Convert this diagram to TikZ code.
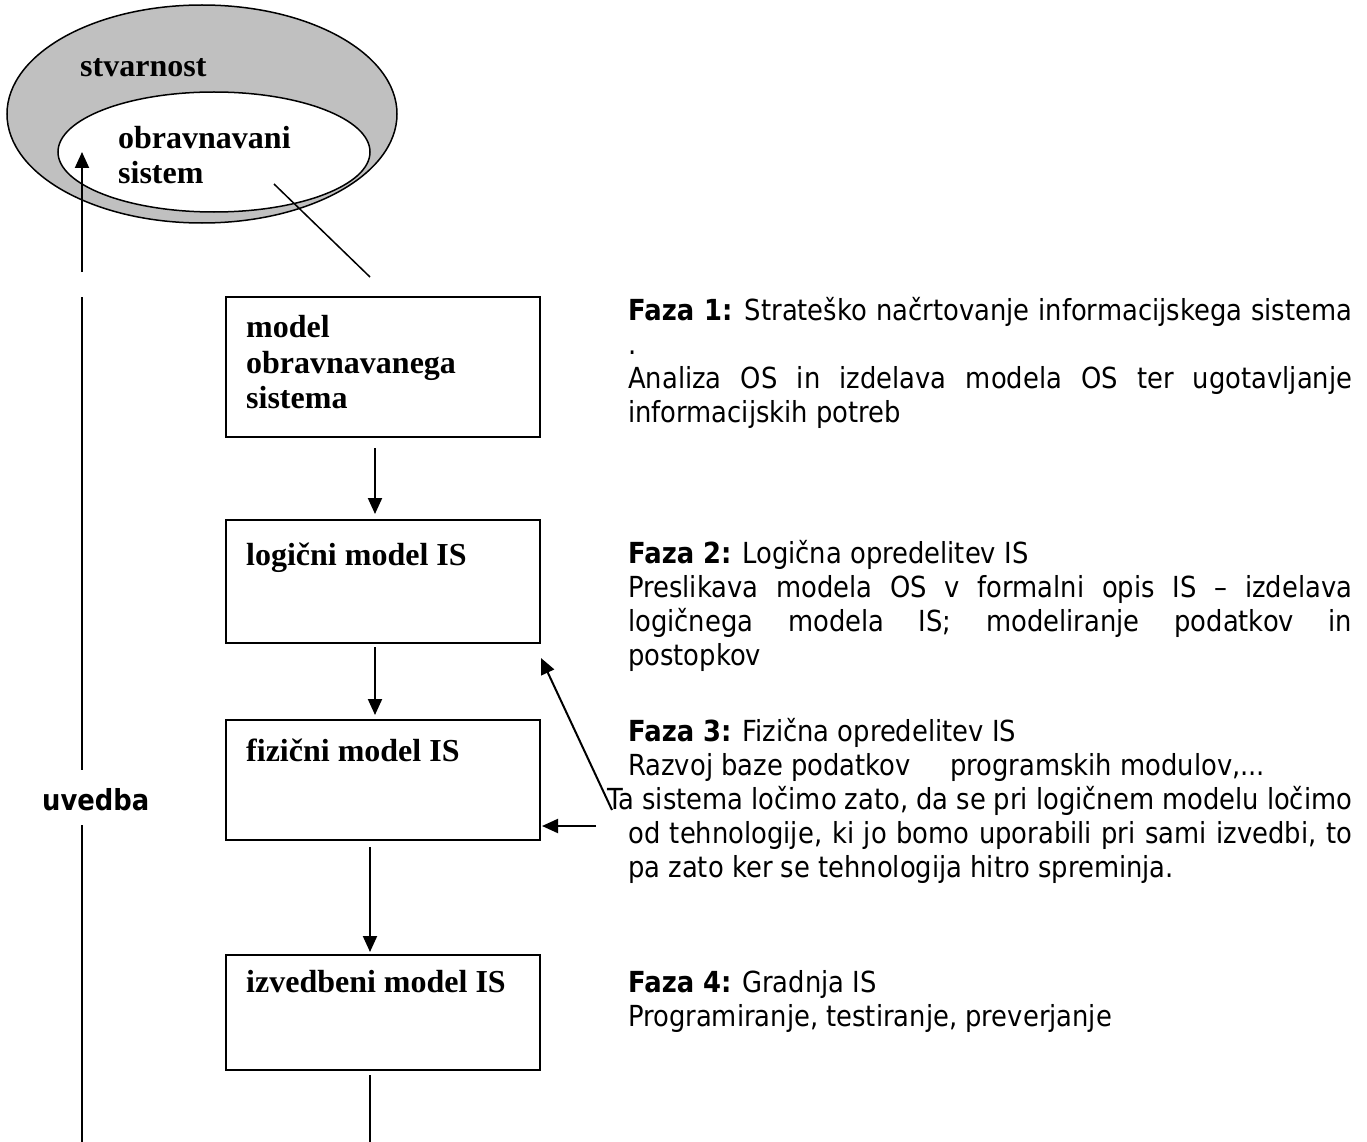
\documentclass[tikz,border=0pt]{standalone}
\usepackage{fontspec}
\setmainfont{Liberation Serif}
\newfontfamily\tah[FakeStretch=0.89]{DejaVu Sans}
\usetikzlibrary{arrows.meta,shapes.geometric}
\definecolor{ringgray}{HTML}{C0C0C0}
\begin{document}
\begin{tikzpicture}[x=1pt,y=-1pt,
  box/.style={draw, line width=2pt, rectangle, minimum width=314pt, inner sep=0pt},
  ser/.style={font=\fontsize{32}{37}\selectfont\bfseries, anchor=base west, inner sep=0pt},
  tx/.style={font=\tah\fontsize{29}{34}\selectfont, anchor=base west, inner sep=0pt},
  ln/.style={line width=2pt},
  thin/.style={line width=1.5pt},
  arr/.style={line width=2pt, -{Triangle[length=16pt,width=14pt]}},
]
\useasboundingbox (0,0) rectangle (1367,1142);
\fill[white] (0,0) rectangle (1367,1142);

% ellipses
\node[ellipse, draw, thin, fill=ringgray, minimum width=390pt, minimum height=218pt, inner sep=0pt] (real) at (202,114) {};
\node[ellipse, draw, thin, fill=white, minimum width=312pt, minimum height=120pt, inner sep=0pt] (os) at (214,152) {};
\node[ser] (tstv) at (80,77) {stvarnost};
\node[ser] (tos1) at (118,149) {obravnavani};
\node[ser] (tos2) at (118,184) {sistem};

% left vertical arrow and line
\coordinate (upA) at (82,272);
\coordinate (upB) at (82,152);
\draw[arr] (upA) -- (upB);
\coordinate (L1) at (82,297);
\coordinate (L2) at (82,770);
\coordinate (L3) at (82,825);
\coordinate (L4) at (82,1142);
\draw[ln] (L1) -- (L2);
\draw[ln] (L3) -- (L4);
\node[tx, font=\tah\fontsize{29}{34}\selectfont\bfseries] (uv) at (42,810) {uvedba};

% diagonal line from ellipse
\coordinate (dA) at (274,184);
\coordinate (dB) at (370,277);
\draw[thin] (dA) -- (dB);

% boxes
\node[box, minimum height=140pt] (b1) at (383,367) {};
\node[box, minimum height=123pt] (b2) at (383,581.5) {};
\node[box, minimum height=120pt] (b3) at (383,780) {};
\node[box, minimum height=115pt] (b4) at (383,1012.5) {};

\node[ser] (b1a) at (246,337) {model};
\node[ser] (b1b) at (246,373) {obravnavanega};
\node[ser] (b1c) at (246,408) {sistema};
\node[ser] (b2t) at (246,565) {logični model IS};
\node[ser] (b3t) at (246,761) {fizični model IS};
\node[ser] (b4t) at (246,992) {izvedbeni model IS};

% connectors
\draw[arr, shorten <=10pt, shorten >=5pt] ([xshift=-8pt]b1.south) -- ([xshift=-8pt]b2.north);
\draw[arr, shorten <=3pt, shorten >=4pt] ([xshift=-8pt]b2.south) -- ([xshift=-8pt]b3.north);
\draw[arr, shorten <=6pt, shorten >=2pt] ([xshift=-13pt]b3.south) -- ([xshift=-13pt]b4.north);
\coordinate (bot) at (370,1142);
\draw[ln, shorten <=4pt] ([xshift=-13pt]b4.south) -- (bot);
\coordinate (dg) at (612,810);
\draw[arr] (dg) -- ([yshift=-14pt]b2.south east);
\coordinate (hz) at (596,826);
\draw[arr, shorten >=1pt] (hz) -- ([yshift=-46pt]b3.east);

% right column text
\node[tx] (f1a) at (628,320) {\makebox[724pt][s]{\textbf{Faza 1:} Strateško načrtovanje informacijskega sistema}};
\node[tx] (f1b) at (628,354) {.};
\node[tx] (f1c) at (628,388) {\makebox[724pt][s]{Analiza OS in izdelava modela OS ter ugotavljanje}};
\node[tx] (f1d) at (628,422) {informacijskih potreb};

\node[tx] (f2a) at (628,563) {\textbf{Faza 2:} Logična opredelitev IS};
\node[tx] (f2b) at (628,597) {\makebox[724pt][s]{Preslikava modela OS v formalni opis IS – izdelava}};
\node[tx] (f2c) at (628,631) {\makebox[724pt][s]{logičnega modela IS; modeliranje podatkov in}};
\node[tx] (f2d) at (628,665) {postopkov};

\node[tx] (f3a) at (628,741) {\textbf{Faza 3:} Fizična opredelitev IS};
\node[tx] (f3b) at (628,775) {Razvoj baze podatkov\hspace{31pt} programskih modulov,...};
\node[tx] (f3c) at (607,809) {\makebox[745pt][s]{Ta sistema ločimo zato, da se pri logičnem modelu ločimo}};
\node[tx] (f3d) at (628,843) {\makebox[724pt][s]{od tehnologije, ki jo bomo uporabili pri sami izvedbi, to}};
\node[tx] (f3e) at (628,877) {pa zato ker se tehnologija hitro spreminja.};

\node[tx] (f4a) at (628,992) {\textbf{Faza 4:} Gradnja IS};
\node[tx] (f4b) at (628,1026) {Programiranje, testiranje, preverjanje};
\end{tikzpicture}
\end{document}
